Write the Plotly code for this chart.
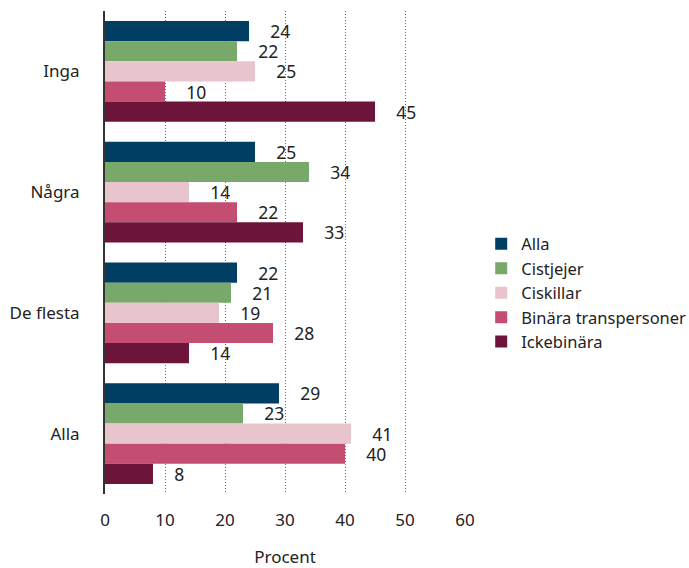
import plotly.graph_objects as go

categories = ["Inga", "Några", "De flesta", "Alla"]
series_names = ["Alla", "Cistjejer", "Ciskillar", "Binära transpersoner", "Ickebinära"]
alla = [24, 25, 22, 29]
cistjejer = [22, 34, 21, 23]
ciskillar = [25, 14, 19, 41]
binara = [10, 22, 28, 40]
ickebinara = [45, 33, 14, 8]
values = [alla, cistjejer, ciskillar, binara, ickebinara]
colors = ["#003f63", "#78a96a", "#e8c4cc", "#c34e72", "#6d143b"]
x_ticks = [0, 10, 20, 30, 40, 50, 60]

FONT = "Noto Sans"
FS = 17
fig = go.Figure()
for name, vals, col in zip(series_names, values, colors):
    fig.add_trace(go.Bar(
        y=categories, x=vals, name=name, orientation="h",
        marker=dict(color=col, line=dict(width=0)),
        text=vals, texttemplate="\u00a0\u00a0\u00a0\u00a0%{x}",
        textposition="outside", cliponaxis=False, constraintext="none",
        textfont=dict(family=FONT, size=17.5, color="#222222"),
    ))

fig.update_layout(
    barmode="group", bargap=0.166, bargroupgap=0,
    width=689, height=568,
    margin=dict(l=105, r=224, t=11, b=74, autoexpand=False),
    plot_bgcolor="white", paper_bgcolor="white",
    font=dict(family=FONT, size=FS, color="#222222"),
    legend=dict(x=1.045, xanchor="left", y=0.416, yanchor="middle",
                traceorder="normal", font=dict(size=16.5), tracegroupgap=0,
                itemwidth=30),
    uniformtext=dict(mode=False),
)
fig.update_xaxes(
    range=[0, 60], tickvals=x_ticks, showgrid=True, gridcolor="#666666",
    griddash="1px,2px", gridwidth=1, zeroline=False, showline=False,
    ticks="outside", ticklen=11, tickcolor="rgba(0,0,0,0)",
    tickfont=dict(size=FS),
    title=dict(text="Procent", font=dict(size=FS), standoff=27),
    automargin=False,
)
fig.update_yaxes(
    autorange="reversed", showline=True, linecolor="#333333", linewidth=2,
    ticks="outside", ticklen=20, tickcolor="rgba(0,0,0,0)",
    tickfont=dict(size=FS), showgrid=False, automargin=False,
)
fig.write_html("out.html")
